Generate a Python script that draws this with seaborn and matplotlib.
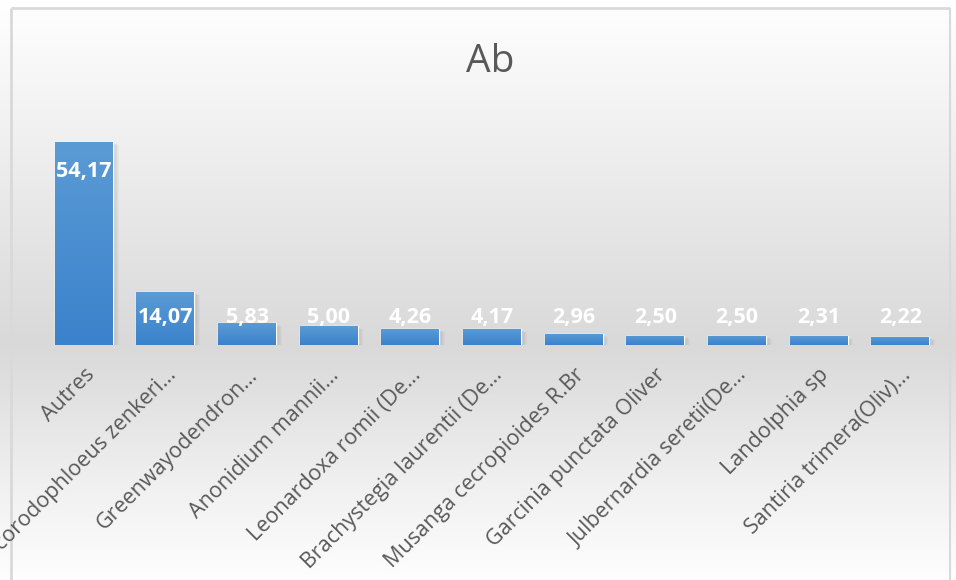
import numpy as np
import pandas as pd
import matplotlib
matplotlib.use("Agg")
import matplotlib.pyplot as plt
import seaborn as sns
from matplotlib.colors import LinearSegmentedColormap

categories = ["Autres", "Scorodophloeus zenkeri…", "Greenwayodendron…",
              "Anonidium mannii…", "Leonardoxa romii (De…",
              "Brachystegia laurentii (De…", "Musanga cecropioides R.Br",
              "Garcinia punctata Oliver", "Julbernardia seretii(De…",
              "Landolphia sp", "Santiria trimera(Oliv)…"]
values = [54.17, 14.07, 5.83, 5.00, 4.26, 4.17, 2.96, 2.50, 2.50, 2.31, 2.22]
value_labels = [f"{v:.2f}".replace(".", ",") for v in values]
title = "Ab"

df = pd.DataFrame({"cat": categories, "val": values})

sns.set_theme(style="white")
plt.rcParams["font.family"] = ["Open Sans", "DejaVu Sans"]

W, H = 956, 580
fig = plt.figure(figsize=(W / 100, H / 100), dpi=100)

# background gradient
bg = fig.add_axes([0, 0, 1, 1], zorder=-10)
ys = np.linspace(0, 1, 400)  # 0 = top
stops = [(0.0, 1.0), (0.22, 0.945), (0.595, 0.85), (0.83, 0.94), (1.0, 0.995)]
sx = [s[0] for s in stops]
sv = [s[1] for s in stops]
grey = np.interp(ys, sx, sv)
img = np.repeat(grey[:, None], 2, axis=1)
bg.imshow(np.dstack([img, img, img]), aspect="auto", extent=[0, 1, 0, 1],
          interpolation="bilinear")
bg.set_xlim(0, 1)
bg.set_ylim(0, 1)
bg.axis("off")
# chart border
bc = "#d9d9d9"
x0, x1, y0 = 11 / W, 950 / W, 1 - 8 / H
bg.plot([x0, x0], [0, y0], color=bc, lw=2, solid_capstyle="butt")
bg.plot([x0, x1], [y0, y0], color=bc, lw=2, solid_capstyle="butt")
bg.plot([x1, x1], [0, y0], color=bc, lw=1.5, solid_capstyle="butt")

ax = fig.add_axes([43 / W, 235 / H, 898 / W, 225 / H])
ax.patch.set_alpha(0)
sns.barplot(data=df, x="cat", y="val", color="#4a8fd3", width=0.71, ax=ax,
            saturation=1)

cmap = LinearSegmentedColormap.from_list("bar", ["#3a82cc", "#5b9bd5"])
grad = np.linspace(0, 1, 256)[:, None]
for p in ax.patches:
    x, y = p.get_x(), p.get_y()
    w, h = p.get_width(), p.get_height()
    # soft shadow
    for k in range(6):
        off = 0.01 + k * 0.012
        ax.add_patch(plt.Rectangle((x + off, y - 0.2 - k * 0.12), w, h,
                                   color="black", alpha=0.025, lw=0, zorder=1))
    im = ax.imshow(grad, cmap=cmap, origin="lower", aspect="auto",
                   extent=[x, x + w, y, y + h], zorder=3)
    im.set_clip_path(p)
    p.set_zorder(2)

for i, (v, lab) in enumerate(zip(values, value_labels)):
    ly = v - 8 if v > 30 else max(v / 2, 7.4)
    ax.text(i, ly, lab, ha="center", va="center", color="white",
            fontsize=15.5, fontweight="bold", zorder=5)

ax.set_xlim(-0.5, len(values) - 0.5)
ax.set_ylim(0, 60)
ax.set_xlabel("")
ax.set_ylabel("")
ax.set_yticks([])
ax.tick_params(axis="x", length=0, pad=14)
ax.set_xticks(range(len(categories)))
ax.set_xticklabels(categories, rotation=45, ha="right", rotation_mode="anchor",
                   fontsize=15.5, color="#595959")
for s in ax.spines.values():
    s.set_visible(False)

fig.text(490 / W, 1 - 62 / H, title, ha="center", va="center",
         fontsize=28, color="#595959")

fig.savefig("out.png", dpi=100)
